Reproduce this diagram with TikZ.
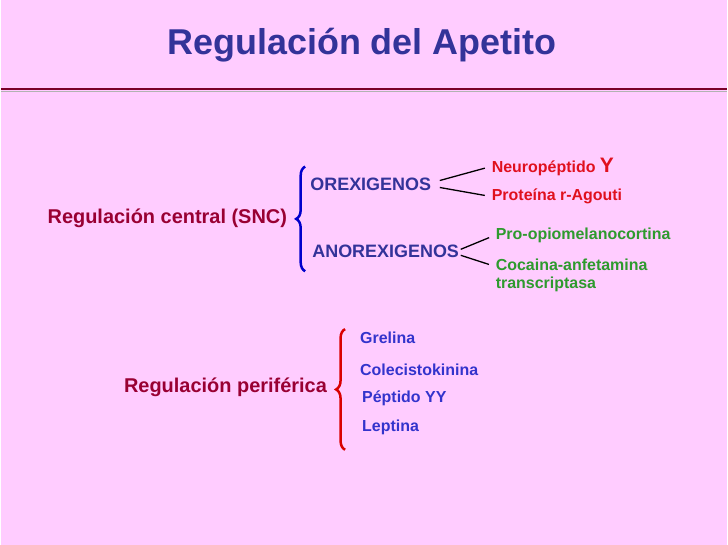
\documentclass[tikz,border=0pt]{standalone}
\usepackage{fontspec}
\setmainfont{Liberation Sans}
\usetikzlibrary{decorations.pathreplacing}
\definecolor{bgpink}{HTML}{FFCCFF}
\definecolor{titleblue}{HTML}{333399}
\definecolor{maroon}{HTML}{990033}
\definecolor{oreblue}{HTML}{333399}
\definecolor{redtxt}{HTML}{E0101E}
\definecolor{greentxt}{HTML}{2E9A2E}
\definecolor{periblue}{HTML}{3333CC}
\begin{document}
\begin{tikzpicture}[x=1pt,y=-1pt]
  \tikzset{every node/.style={font=\bfseries\fontsize{16}{18.5}\selectfont,inner sep=1pt},
    main/.style={font=\bfseries\fontsize{20}{22}\selectfont,text=maroon},
    group/.style={text=oreblue,font=\bfseries\fontsize{18}{20}\selectfont,anchor=west},
    leaf/.style={anchor=west,align=left},
    bracket/.style={decorate,decoration={brace,amplitude=9pt},line width=2.5pt}}
  \fill[bgpink] (0,0) rectangle (728,546);
  \draw[gray!60,line width=1.5pt] (0,92) -- (728,92);
  \draw[maroon!80!black,line width=2pt] (0,89.5) -- (728,89.5);
  \node[font=\bfseries\fontsize{36}{40}\selectfont,text=titleblue] (title) at (362,45) {Regulación del Apetito};
  % central
  \node[main,anchor=east] (central) at (288,219) {Regulación central (SNC)};
  \draw[bracket,blue!80!black] (305,272) -- (305,167);
  \node[group] (orex) at (309,185) {OREXIGENOS};
  \node[group] (anorex) at (311,252) {ANOREXIGENOS};
  \node[leaf,text=redtxt] (npy) at (491,167) {Neuropéptido {\fontsize{21}{21}\selectfont Y}};
  \node[leaf,text=redtxt] (agouti) at (491,197) {Proteína r-Agouti};
  \node[leaf,text=greentxt] (pomc) at (495,236) {Pro-opiomelanocortina};
  \node[leaf,text=greentxt,anchor=north west] (cart) at (495,258) {Cocaina-anfetamina\\transcriptasa};
  \coordinate (orexR) at (440,181);
  \coordinate (orexR2) at (440,188);
  \coordinate (anoR) at (461,250);
  \coordinate (anoR2) at (461,256);
  \draw[line width=1.3pt,shorten >=6pt] (orexR) -- (npy.west);
  \draw[line width=1.3pt,shorten >=6pt] (orexR2) -- (agouti.west);
  \draw[line width=1.3pt,shorten >=6pt] (anoR) -- (pomc.west);
  \draw[line width=1.3pt,shorten >=6pt] (anoR2) -- ([yshift=-9pt]cart.north west);
  % periferica
  \node[main,anchor=east] (perif) at (328,388) {Regulación periférica};
  \draw[bracket,red!85!black] (345,451) -- (345,330);
  \node[leaf,text=periblue] (grelina) at (359,339) {Grelina};
  \node[leaf,text=periblue] (cck) at (359,371) {Colecistokinina};
  \node[leaf,text=periblue] (pyy) at (361,399) {Péptido YY};
  \node[leaf,text=periblue] (leptina) at (361,429) {Leptina};
\end{tikzpicture}
\end{document}
